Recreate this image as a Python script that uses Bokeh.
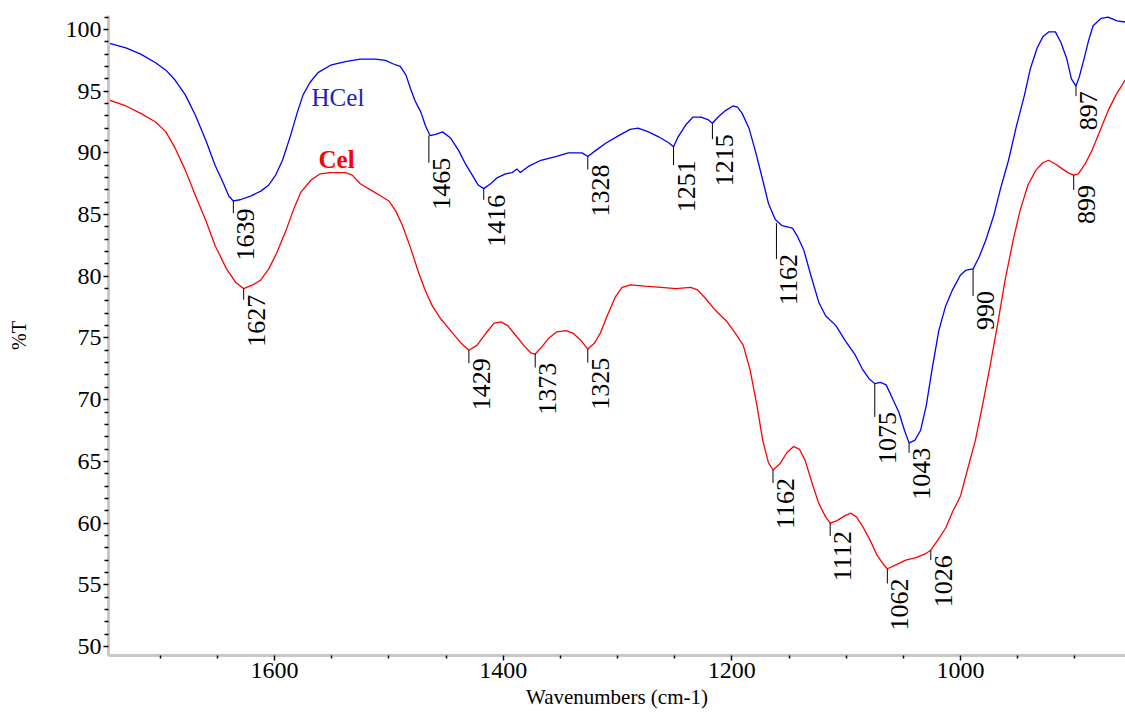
import math
from bokeh.plotting import figure
from bokeh.models import Range1d, FixedTicker, ColumnDataSource, Label
from bokeh.embed import file_html
from bokeh.resources import INLINE
from bokeh.core.properties import value

# ---------------- data ----------------
hcel_wn = [1745, 1730, 1717, 1704, 1695, 1687, 1678, 1669, 1660, 1652, 1645, 1640, 1636, 1630, 1621,
           1612, 1605, 1599, 1593, 1586, 1580, 1575, 1569, 1562, 1551, 1538, 1525, 1512, 1503, 1496,
           1490, 1485, 1481, 1477, 1472, 1468, 1464, 1459, 1453, 1446, 1439, 1433, 1427, 1422, 1417,
           1411, 1405, 1398, 1392, 1388, 1385, 1378, 1367, 1354, 1343, 1337, 1331, 1326, 1319, 1310,
           1299, 1289, 1282, 1273, 1264, 1255, 1251, 1247, 1240, 1234, 1227, 1221, 1217, 1212, 1206,
           1199, 1195, 1191, 1185, 1179, 1173, 1168, 1162, 1156, 1147, 1143, 1137, 1131, 1124, 1118,
           1109, 1101, 1092, 1086, 1080, 1075, 1070, 1065, 1060, 1054, 1049, 1045, 1040, 1035, 1030,
           1025, 1019, 1013, 1007, 1000, 995, 989, 984, 978, 971, 965, 958, 951, 944, 939,
           933, 928, 923, 917, 912, 907, 903, 899, 896, 892, 888, 884, 877, 871, 863, 856]
hcel_t = [98.9, 98.5, 98.0, 97.3, 96.7, 95.9, 94.7, 93.0, 91.0, 89.0, 87.6, 86.5, 86.1, 86.2, 86.5,
          86.9, 87.4, 88.2, 89.4, 91.4, 93.3, 94.7, 95.7, 96.5, 97.1, 97.4, 97.6, 97.6, 97.5, 97.2,
          97.0, 96.3, 95.2, 94.2, 93.3, 92.2, 91.4, 91.5, 91.7, 91.2, 90.2, 89.1, 88.2, 87.4, 87.1,
          87.5, 88.0, 88.3, 88.4, 88.7, 88.4, 88.9, 89.4, 89.7, 90.0, 90.0, 90.0, 89.7, 90.2, 90.8,
          91.4, 91.9, 92.0, 91.7, 91.3, 90.8, 90.5, 91.3, 92.3, 92.9, 92.9, 92.7, 92.4, 92.9, 93.4,
          93.8, 93.7, 93.2, 92.0, 90.0, 87.8, 85.9, 84.6, 84.1, 83.9, 83.3, 82.1, 80.1, 77.9, 76.8,
          76.0, 74.8, 73.6, 72.5, 71.7, 71.3, 71.4, 71.2, 70.2, 69.0, 67.5, 66.5, 66.7, 67.5, 69.5,
          72.4, 75.6, 77.6, 78.9, 80.1, 80.5, 80.6, 81.5, 82.9, 84.9, 87.1, 89.4, 92.2, 94.7, 96.8,
          98.5, 99.4, 99.8, 99.8, 98.9, 97.6, 96.0, 95.4, 96.2, 97.6, 99.1, 100.3, 100.9, 101.0, 100.7, 100.6]

cel_wn = [1745, 1730, 1717, 1704, 1695, 1687, 1678, 1669, 1660, 1652, 1642, 1634, 1627, 1619, 1612,
          1605, 1598, 1590, 1583, 1577, 1568, 1560, 1551, 1538, 1532, 1525, 1516, 1507, 1500, 1494,
          1488, 1481, 1474, 1468, 1462, 1455, 1446, 1437, 1430, 1423, 1415, 1408, 1402, 1396, 1389,
          1382, 1376, 1372, 1366, 1360, 1353, 1345, 1339, 1332, 1326, 1320, 1315, 1309, 1302, 1296,
          1289, 1276, 1262, 1249, 1236, 1230, 1223, 1214, 1205, 1197, 1190, 1184, 1178, 1173, 1168,
          1164, 1158, 1152, 1146, 1141, 1136, 1129, 1124, 1118, 1114, 1108, 1101, 1096, 1091, 1086,
          1079, 1073, 1067, 1064, 1057, 1048, 1039, 1031, 1026, 1020, 1013, 1007, 1000, 994, 987,
          980, 974, 967, 961, 954, 948, 941, 934, 928, 923, 917, 911, 906, 901, 897,
          891, 885, 878, 871, 864, 856]
cel_t = [94.3, 93.8, 93.2, 92.5, 91.7, 90.4, 88.6, 86.5, 84.5, 82.5, 80.6, 79.5, 79.0, 79.3, 79.7,
         80.6, 81.9, 83.7, 85.5, 86.8, 87.8, 88.3, 88.4, 88.4, 88.2, 87.5, 87.0, 86.5, 86.1, 85.3,
         84.1, 82.3, 80.3, 78.8, 77.6, 76.6, 75.6, 74.6, 74.0, 74.4, 75.4, 76.2, 76.3, 76.0, 75.2,
         74.4, 73.8, 73.7, 74.3, 75.0, 75.5, 75.6, 75.4, 74.8, 74.1, 74.6, 75.4, 76.8, 78.3, 79.1,
         79.3, 79.2, 79.1, 79.0, 79.1, 78.9, 78.2, 77.2, 76.4, 75.4, 74.4, 72.4, 69.5, 66.7, 64.9,
         64.3, 64.8, 65.7, 66.2, 66.0, 65.1, 63.0, 61.6, 60.5, 60.0, 60.2, 60.6, 60.8, 60.5, 59.8,
         58.6, 57.4, 56.6, 56.3, 56.6, 57.0, 57.2, 57.5, 57.8, 58.6, 59.6, 60.9, 62.2, 64.3, 66.7,
         69.9, 72.8, 76.4, 79.7, 82.9, 85.3, 87.4, 88.6, 89.2, 89.4, 89.1, 88.7, 88.4, 88.2, 88.3,
         89.1, 90.2, 91.8, 93.4, 94.7, 95.9]

# peak annotations
hcel_peak_labels = ["1639", "1465", "1416", "1328", "1251", "1215", "1162", "1075", "1043", "990", "897"]
hcel_peak_wn = [1636, 1465, 1417, 1326, 1251, 1217, 1161, 1075, 1045, 989, 899]
hcel_peak_t = [86.1, 91.4, 87.1, 89.7, 90.5, 92.4, 84.3, 71.3, 66.5, 80.6, 95.4]

cel_peak_labels = ["1627", "1429", "1373", "1325", "1162", "1112", "1062", "1026", "899"]
cel_peak_wn = [1627, 1430, 1372, 1326, 1164, 1114, 1064, 1026, 901]
cel_peak_t = [79.0, 74.0, 73.7, 74.1, 64.3, 60.0, 56.3, 57.8, 88.2]

x_major = [1600, 1400, 1200, 1000]
x_minor = [1700, 1650, 1550, 1500, 1450, 1350, 1300, 1250, 1150, 1100, 1050, 950, 900]
y_major = [50, 55, 60, 65, 70, 75, 80, 85, 90, 95, 100]
y_minor = [v for v in range(50, 102) if v % 5 != 0]

# ---------------- style ----------------
FONT = "Liberation Serif"
hcel_leader = [1.0, 2.2, 0.9, 1.05, 1.5, 1.3, 2.9, 2.7, 0.8, 2.2, 0.8]
cel_leader = [0.9, 1.05, 1.1, 1.1, 1.05, 1.05, 1.2, 0.8, 1.2]

p = figure(width=1125, height=718,
           x_range=Range1d(1745.2, 855.7), y_range=Range1d(49.27, 101.13),
           output_backend="svg", toolbar_location=None,
           min_border_left=108, min_border_right=0, min_border_top=15, min_border_bottom=63)
p.outline_line_color = None
p.xgrid.visible = False
p.ygrid.visible = False
p.background_fill_color = "white"
p.border_fill_color = "white"

p.xaxis.ticker = FixedTicker(ticks=x_major, minor_ticks=x_minor)
p.yaxis.ticker = FixedTicker(ticks=y_major, minor_ticks=y_minor)
for ax in (p.xaxis, p.yaxis):
    ax.axis_line_color = "#c8c8c8"
    ax.axis_line_width = 3
    ax.major_tick_line_color = "black"
    ax.minor_tick_line_color = "black"
    ax.major_tick_line_width = 1.5
    ax.minor_tick_line_width = 1.5
    ax.major_tick_in = 0
    ax.minor_tick_in = 0
    ax.major_label_text_font = FONT
    ax.major_label_text_font_size = "24px"
    ax.major_label_text_color = "black"
    ax.axis_label_text_font = FONT
    ax.axis_label_text_font_style = "normal"
    ax.axis_label_text_font_size = "20px"
    ax.axis_label_text_color = "black"

p.xaxis.major_tick_out = 5
p.xaxis.minor_tick_out = 3
p.xaxis.major_label_standoff = 2
p.xaxis.axis_label = "Wavenumbers (cm-1)"
p.xaxis.axis_label_text_font_size = "21px"
p.xaxis.axis_label_standoff = 4

p.yaxis.major_tick_out = 5
p.yaxis.minor_tick_out = 4
p.yaxis.major_label_standoff = 2
p.yaxis.axis_label = "%T"
p.yaxis.axis_label_standoff = 33

p.line(hcel_wn, hcel_t, line_color="#0000ff", line_width=1.3)
p.line(cel_wn, cel_t, line_color="#ff0000", line_width=1.3)

def add_peaks(wn, t, labels, leader):
    y_end = [a - b for a, b in zip(t, leader)]
    p.segment(x0=wn, y0=t, x1=wn, y1=y_end, line_color="black", line_width=1)
    src = ColumnDataSource(dict(x=wn, y=[a + 0.4 for a in y_end], text=labels))
    p.text(x="x", y="y", text="text", source=src, angle=math.pi / 2,
           text_align="right", text_baseline="top", x_offset=4,
           text_font=value(FONT), text_font_size="26px", text_color="black")

add_peaks(hcel_peak_wn, hcel_peak_t, hcel_peak_labels, hcel_leader)
add_peaks(cel_peak_wn, cel_peak_t, cel_peak_labels, cel_leader)

p.add_layout(Label(x=1567.6, y=94.52, text="HCel", text_font=FONT, text_font_size="25px",
                   text_color="#2020c0", text_align="left", text_baseline="alphabetic"))
p.add_layout(Label(x=1561.5, y=89.5, text="Cel", text_font=FONT, text_font_size="25px",
                   text_font_style="bold", text_color="#ff0000", text_align="left",
                   text_baseline="alphabetic"))

open("out.html", "w").write(file_html(p, INLINE))
